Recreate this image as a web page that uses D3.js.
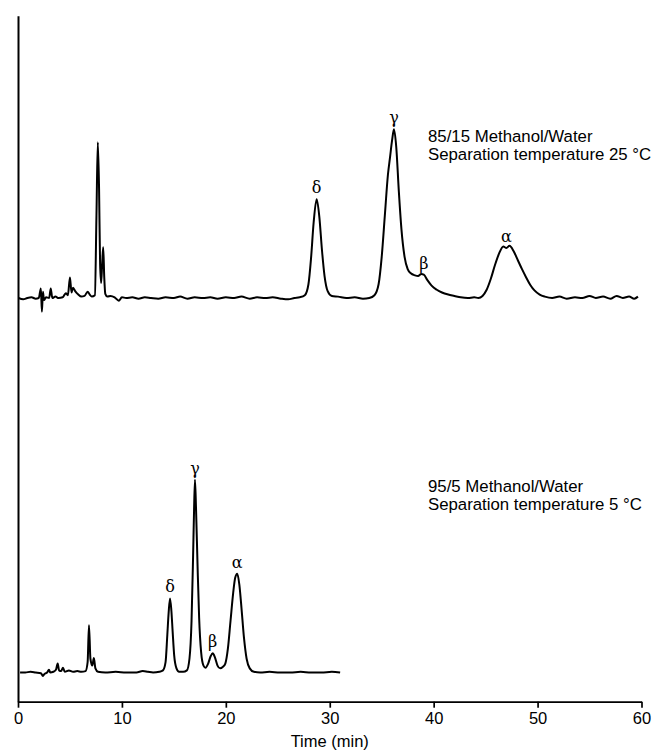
<!DOCTYPE html>
<html>
<head>
<meta charset="utf-8">
<script src="https://cdn.jsdelivr.net/npm/d3@7"></script>
<style>
  body { margin: 0; background: #fff; }
  svg { display: block; font-family: "Liberation Sans", Arial, sans-serif; }
</style>
</head>
<body>
<svg></svg>
<script>
// upper run: 85/15 methanol/water, 25 °C (signal above its own baseline)
const upperTime = [0.05, 0.5, 0.9, 1.3, 1.7, 2.0, 2.2, 2.3, 2.4, 2.5, 2.7, 3.0, 3.15, 3.3, 3.6, 3.9, 4.3, 4.6, 4.8, 5.0,
  5.15, 5.3, 5.5, 5.8, 6.1, 6.4, 6.7, 6.9, 7.1, 7.4, 7.55, 7.68, 7.8, 7.9, 8.0, 8.1, 8.2, 8.3, 8.4, 8.6,
  8.9, 9.3, 9.7, 10.0, 10.4, 11.0, 11.6, 12.2, 12.8, 13.5, 14.2, 15.0, 15.6, 16.3, 17.0, 17.8, 18.5, 19.2, 20.0, 20.8,
  21.5, 22.3, 23.0, 23.8, 24.5, 25.3, 26.0, 26.6, 27.1, 27.6, 27.95, 28.2, 28.45, 28.74, 29.0, 29.25, 29.5, 29.8, 30.2, 30.8,
  31.6, 32.4, 33.2, 33.8, 34.3, 34.7, 35.0, 35.3, 35.6, 35.8, 36.0, 36.18, 36.4, 36.65, 36.9, 37.2, 37.5, 37.8, 38.2, 38.5,
  38.8, 39.05, 39.4, 39.8, 40.3, 40.8, 41.4, 42.0, 42.6, 43.3, 43.9, 44.3, 44.7, 45.1, 45.5, 45.9, 46.3, 46.7, 47.0, 47.3,
  47.7, 48.1, 48.5, 48.9, 49.3, 49.7, 50.2, 50.7, 51.4, 52.1, 52.8, 53.6, 54.3, 55.0, 55.6, 56.3, 57.0, 57.6, 58.2, 58.8,
  59.3, 59.66];
const upperSignal = [0.0, -0.2, 0.0, 0.1, -0.1, 0.0, 1.4, -2.0, 0.9, -0.3, 0.1, 0.0, 1.4, 0.0, 0.2, 0.0, 0.1, 0.7, 0.4, 3.0,
  0.8, 1.5, 1.0, 0.5, 0.2, 0.3, 0.9, 0.5, 0.2, 0.4, 12.0, 22.7, 16.0, 5.0, 2.2, 5.0, 7.4, 3.0, 0.6, 0.2,
  0.3, 0.1, -0.4, 0.1, 0.0, 0.1, -0.1, 0.1, 0.0, -0.1, 0.1, 0.0, 0.2, -0.1, 0.1, 0.0, 0.1, -0.1, 0.1, 0.0,
  0.2, -0.1, 0.1, 0.0, 0.1, -0.1, -0.2, 0.0, 0.1, 0.4, 2.0, 5.8, 11.0, 14.4, 11.8, 7.0, 3.2, 1.0, 0.3, 0.2,
  0.0, 0.1, -0.1, 0.0, 0.4, 2.0, 6.0, 12.0, 18.0, 20.5, 23.0, 24.6, 22.0, 15.5, 10.0, 6.0, 4.2, 3.6, 3.3, 3.2,
  3.5, 3.4, 2.6, 1.8, 1.2, 0.8, 0.5, 0.3, 0.1, 0.0, 0.1, 0.0, 0.3, 1.2, 2.8, 4.8, 6.5, 7.5, 7.3, 7.6,
  6.8, 5.5, 4.2, 3.0, 1.9, 1.1, 0.5, 0.2, 0.0, 0.2, -0.1, 0.1, 0.0, 0.3, 0.0, 0.2, -0.1, 0.3, 0.0, 0.2,
  -0.1, 0.2];

// lower run: 95/5 methanol/water, 5 °C
const lowerTime = [0.2, 0.7, 1.2, 1.7, 2.2, 2.4, 2.55, 2.8, 2.98, 3.1, 3.4, 3.65, 3.82, 3.95, 4.15, 4.33, 4.5, 4.9, 5.3, 5.7,
  6.1, 6.5, 6.7, 6.83, 6.97, 7.15, 7.3, 7.45, 7.7, 8.4, 9.4, 10.4, 11.4, 12.0, 12.5, 13.0, 13.6, 13.95, 14.2, 14.37,
  14.5, 14.63, 14.76, 14.88, 15.03, 15.25, 15.5, 15.9, 16.25, 16.5, 16.7, 16.85, 16.94, 17.03, 17.13, 17.28, 17.43, 17.62, 17.85, 18.05,
  18.3, 18.55, 18.74, 18.95, 19.2, 19.45, 19.7, 19.95, 20.2, 20.45, 20.7, 20.9, 21.1, 21.3, 21.5, 21.75, 22.0, 22.3, 22.7, 23.3,
  24.2, 25.2, 26.2, 27.2, 28.2, 29.2, 30.2, 31.0];
const lowerSignal = [0.0, 0.0, 0.1, 0.0, -0.1, -0.5, -0.2, 0.0, 0.4, 0.0, 0.1, 0.4, 1.3, 0.3, 0.2, 0.7, 0.1, 0.3, 0.1, 0.2,
  0.1, 0.2, 1.5, 6.9, 2.0, 1.0, 2.1, 0.6, 0.1, 0.0, 0.1, 0.0, 0.0, 0.2, 0.1, 0.0, 0.1, 0.3, 1.5, 5.5,
  8.8, 10.8, 9.0, 6.0, 2.5, 0.6, 0.1, 0.1, 0.3, 2.0, 7.5, 17.0, 23.5, 28.1, 24.0, 15.5, 8.0, 3.0, 1.0, 0.7,
  1.3, 2.4, 2.8, 2.2, 1.0, 0.6, 0.8, 1.3, 3.5, 7.5, 11.5, 13.8, 14.4, 12.8, 9.5, 5.0, 2.0, 0.6, 0.1, 0.0,
  0.1, 0.0, 0.0, 0.1, 0.0, 0.0, 0.1, 0.0];

// peak labels (tocopherols)
const upperPeaks = [{ name: "δ", t: 28.74 }, { name: "γ", t: 36.18 }, { name: "β", t: 39.05 }, { name: "α", t: 47.0 }];
const lowerPeaks = [{ name: "δ", t: 14.63 }, { name: "γ", t: 17.03 }, { name: "β", t: 18.74 }, { name: "α", t: 21.1 }];

const upperLabel = ["85/15 Methanol/Water", "Separation temperature 25 °C"];
const lowerLabel = ["95/5 Methanol/Water", "Separation temperature 5 °C"];
const xTicks = [0, 10, 20, 30, 40, 50, 60];

const width = 653;
const height = 753;
const margin = { left: 18, right: 11.5, top: 15.7, bottom: 51.3 };

// baselines of the two traces on the shared signal axis
const upperOffset = 58.85;
const lowerOffset = 4.26;

let svg = d3.select("svg")
    .attr("width", width)
    .attr("height", height);

let scX = d3.scaleLinear()
    .domain([0, 60])
    .range([margin.left, width - margin.right]);
let scY = d3.scaleLinear()
    .domain([0, 100])
    .range([height - margin.bottom, margin.top]);

// x axis
let axisX = d3.axisBottom(scX)
    .tickValues(xTicks)
    .tickSize(6)
    .tickSizeOuter(0)
    .tickPadding(5);
let gx = svg.append("g")
    .attr("transform", `translate(0, ${height - margin.bottom})`)
    .call(axisX);
gx.select(".domain").attr("stroke", "#000").attr("stroke-width", 1.7);
gx.selectAll(".tick line").attr("stroke", "#000").attr("stroke-width", 1.7);
gx.selectAll(".tick text")
    .attr("fill", "#000")
    .style("font-size", "16.5px")
    .style("font-family", "Liberation Sans, Arial, sans-serif");

// y axis: bare line, no ticks
let gy = svg.append("g")
    .attr("transform", `translate(${margin.left}, 0)`)
    .call(d3.axisLeft(scY).tickValues([]).tickSizeOuter(0));
gy.select(".domain").attr("stroke", "#000").attr("stroke-width", 2);

svg.append("text")
    .attr("x", (scX(0) + scX(60)) / 2)
    .attr("y", 747)
    .attr("text-anchor", "middle")
    .style("font-size", "16.5px")
    .text("Time (min)");

function drawTrace(times, signal, offset) {
    let pts = times.map((t, i) => [t, signal[i] + offset]);
    let line = d3.line()
        .x(d => scX(d[0]))
        .y(d => scY(d[1]))
        .curve(d3.curveMonotoneX);
    svg.append("path")
        .datum(pts)
        .attr("d", line)
        .attr("fill", "none")
        .attr("stroke", "#000")
        .attr("stroke-width", 2)
        .attr("stroke-linejoin", "round");
}

function drawPeakLabels(peaks, times, signal, offset) {
    // label sits just above the trace value at the peak time
    const interp = t => {
        let i = d3.bisectLeft(times, t);
        if (i <= 0) return signal[0];
        if (i >= times.length) return signal[signal.length - 1];
        let k = (t - times[i - 1]) / (times[i] - times[i - 1]);
        return signal[i - 1] + k * (signal[i] - signal[i - 1]);
    };
    svg.selectAll(null)
        .data(peaks)
        .enter()
        .append("text")
        .attr("x", d => scX(d.t))
        .attr("y", d => scY(interp(d.t) + offset) - 6)
        .attr("text-anchor", "middle")
        .style("font-size", "16px")
        .style("font-family", "DejaVu Serif, serif")
        .text(d => d.name);
}

function drawNote(lines, x, y) {
    svg.append("text")
        .attr("x", x)
        .attr("y", y)
        .style("font-size", "16.8px")
        .selectAll("tspan")
        .data(lines)
        .enter()
        .append("tspan")
        .attr("x", x)
        .attr("dy", (d, i) => i === 0 ? 0 : 18.3)
        .text(d => d);
}

drawTrace(upperTime, upperSignal, upperOffset);
drawTrace(lowerTime, lowerSignal, lowerOffset);
drawPeakLabels(upperPeaks, upperTime, upperSignal, upperOffset);
drawPeakLabels(lowerPeaks, lowerTime, lowerSignal, lowerOffset);
drawNote(upperLabel, 428, 141.7);
drawNote(lowerLabel, 428, 491.7);
</script>
</body>
</html>
